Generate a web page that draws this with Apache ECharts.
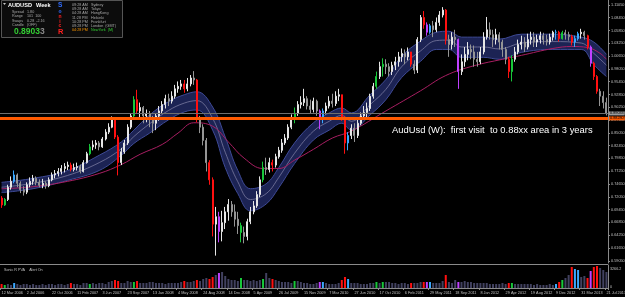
<!DOCTYPE html>
<html>
<head>
<meta charset="utf-8">
<script src="https://cdn.jsdelivr.net/npm/echarts@6/dist/echarts.min.js"></script>
<style>
  html, body { margin: 0; padding: 0; background: #000; }
  #chart { width: 625px; height: 297px; }
</style>
</head>
<body>
<div id="chart"></div>
<script>
  // two-week bars, AUDUSD weekly chart Mar 2006 - Jul 2013
  const dateLabels = ['12 Mar 2006', '2 Jul 2006', '22 Oct 2006', '11 Feb 2007', '3 Jun 2007', '23 Sep 2007',
    '13 Jan 2008', '4 May 2008', '24 Aug 2008', '14 Dec 2008', '5 Apr 2009', '26 Jul 2009', '15 Nov 2009',
    '7 Mar 2010', '27 Jun 2010', '17 Oct 2010', '6 Feb 2011', '29 May 2011', '18 Sep 2011', '8 Jan 2012',
    '29 Apr 2012', '19 Aug 2012', '9 Dec 2012', '31 Mar 2013', '21 Jul 2013'];

  const firstOpen = 0.718;
  const closes = [
    0.704, 0.715, 0.740, 0.752, 0.765, 0.748, 0.735, 0.730, 0.745, 0.752, 0.758, 0.750, 0.744, 0.748, 0.743, 0.755,
    0.765, 0.768, 0.772, 0.778, 0.782, 0.785, 0.776, 0.780, 0.782, 0.772, 0.790, 0.808, 0.822, 0.826, 0.830, 0.822,
    0.838, 0.852, 0.862, 0.878, 0.842, 0.790, 0.812, 0.830, 0.862, 0.885, 0.918, 0.895, 0.902, 0.885, 0.890, 0.878,
    0.870, 0.885, 0.895, 0.908, 0.920, 0.915, 0.925, 0.940, 0.945, 0.950, 0.940, 0.950, 0.962, 0.958, 0.878, 0.862,
    0.835, 0.790, 0.755, 0.665, 0.680, 0.650, 0.668, 0.690, 0.705, 0.690, 0.675, 0.662, 0.648, 0.640, 0.670, 0.690,
    0.702, 0.725, 0.755, 0.780, 0.776, 0.790, 0.785, 0.802, 0.815, 0.830, 0.840, 0.862, 0.882, 0.890, 0.908, 0.912,
    0.920, 0.905, 0.898, 0.915, 0.895, 0.880, 0.895, 0.905, 0.915, 0.910, 0.925, 0.928, 0.880, 0.830, 0.845, 0.860,
    0.845, 0.870, 0.885, 0.892, 0.900, 0.925, 0.945, 0.965, 0.985, 0.990, 0.985, 0.975, 0.988, 0.995, 1.005, 1.012,
    1.005, 1.015, 0.990, 0.978, 1.040, 1.085, 1.070, 1.055, 1.068, 1.060, 1.075, 1.090, 1.100, 1.040, 1.030, 1.045,
    1.040, 0.975, 0.995, 1.010, 1.020, 1.015, 1.000, 0.995, 1.015, 1.045, 1.060, 1.050, 1.040, 1.050, 1.035, 1.020,
    1.000, 0.975, 1.000, 1.015, 1.030, 1.035, 1.025, 1.040, 1.045, 1.035, 1.040, 1.048, 1.040, 1.035, 1.045, 1.055,
    1.055, 1.042, 1.054, 1.050, 1.046, 1.035, 1.042, 1.052, 1.055, 1.048, 1.025, 0.992, 0.965, 0.935, 0.925, 0.912,
    0.890
  ];
  const lows = [
    0.698, 0.702, 0.712, 0.735, 0.748, 0.740, 0.728, 0.723, 0.726, 0.740, 0.745, 0.744, 0.740, 0.738, 0.737, 0.740,
    0.752, 0.758, 0.762, 0.766, 0.770, 0.775, 0.772, 0.772, 0.774, 0.768, 0.770, 0.788, 0.805, 0.815, 0.818, 0.815,
    0.820, 0.835, 0.848, 0.860, 0.838, 0.764, 0.785, 0.808, 0.826, 0.858, 0.882, 0.890, 0.882, 0.870, 0.872, 0.862,
    0.850, 0.856, 0.875, 0.890, 0.900, 0.905, 0.910, 0.920, 0.932, 0.938, 0.932, 0.935, 0.945, 0.948, 0.872, 0.850,
    0.825, 0.772, 0.745, 0.640, 0.601, 0.628, 0.630, 0.655, 0.672, 0.680, 0.660, 0.645, 0.628, 0.626, 0.632, 0.665,
    0.685, 0.698, 0.720, 0.750, 0.765, 0.770, 0.772, 0.780, 0.798, 0.810, 0.826, 0.836, 0.858, 0.870, 0.885, 0.900,
    0.905, 0.898, 0.890, 0.892, 0.885, 0.858, 0.870, 0.888, 0.900, 0.902, 0.905, 0.915, 0.875, 0.808, 0.815, 0.838,
    0.832, 0.840, 0.866, 0.878, 0.882, 0.895, 0.920, 0.940, 0.960, 0.965, 0.970, 0.965, 0.968, 0.978, 0.985, 0.995,
    0.990, 0.998, 0.985, 0.970, 0.972, 1.035, 1.062, 1.048, 1.052, 1.045, 1.055, 1.068, 1.085, 1.030, 1.005, 1.020,
    1.025, 0.940, 0.968, 0.985, 0.998, 1.000, 0.985, 0.985, 0.990, 1.010, 1.040, 1.040, 1.025, 1.030, 1.020, 1.005,
    0.990, 0.962, 0.955, 0.995, 1.010, 1.020, 1.015, 1.020, 1.030, 1.025, 1.025, 1.032, 1.030, 1.028, 1.030, 1.038,
    1.040, 1.036, 1.040, 1.040, 1.038, 1.028, 1.025, 1.038, 1.042, 1.040, 1.020, 0.985, 0.958, 0.930, 0.905, 0.900,
    0.886
  ];
  const highs = [
    0.722, 0.718, 0.745, 0.762, 0.774, 0.768, 0.752, 0.742, 0.750, 0.760, 0.765, 0.762, 0.756, 0.757, 0.752, 0.760,
    0.770, 0.775, 0.779, 0.785, 0.789, 0.792, 0.790, 0.788, 0.790, 0.786, 0.795, 0.812, 0.828, 0.835, 0.836, 0.834,
    0.842, 0.858, 0.870, 0.884, 0.882, 0.846, 0.820, 0.836, 0.868, 0.890, 0.925, 0.938, 0.912, 0.905, 0.898, 0.895,
    0.885, 0.890, 0.905, 0.915, 0.928, 0.930, 0.935, 0.948, 0.955, 0.958, 0.958, 0.962, 0.968, 0.976, 0.960, 0.885,
    0.868, 0.840, 0.795, 0.760, 0.700, 0.690, 0.692, 0.700, 0.716, 0.712, 0.705, 0.690, 0.668, 0.660, 0.676, 0.700,
    0.712, 0.732, 0.762, 0.792, 0.800, 0.800, 0.796, 0.808, 0.822, 0.838, 0.848, 0.868, 0.888, 0.902, 0.915, 0.925,
    0.940, 0.925, 0.918, 0.922, 0.918, 0.898, 0.900, 0.912, 0.925, 0.930, 0.935, 0.940, 0.928, 0.885, 0.852, 0.868,
    0.870, 0.878, 0.892, 0.905, 0.912, 0.930, 0.952, 0.975, 0.995, 1.002, 1.000, 0.992, 0.995, 1.005, 1.015, 1.022,
    1.020, 1.024, 1.015, 0.998, 1.045, 1.090, 1.098, 1.075, 1.072, 1.078, 1.085, 1.098, 1.106, 1.102, 1.050, 1.055,
    1.060, 1.042, 1.010, 1.025, 1.035, 1.030, 1.028, 1.015, 1.025, 1.055, 1.086, 1.075, 1.060, 1.062, 1.055, 1.040,
    1.025, 1.005, 1.008, 1.025, 1.040, 1.048, 1.045, 1.052, 1.056, 1.055, 1.050, 1.056, 1.054, 1.050, 1.052, 1.058,
    1.060, 1.058, 1.058, 1.060, 1.056, 1.050, 1.048, 1.056, 1.062, 1.058, 1.050, 1.028, 0.995, 0.968, 0.940, 0.935,
    0.922
  ];

  // bars drawn in indicator colours (same on candle and volume)
  const redBars = [0, 22, 36, 37, 43, 58, 62, 66, 67, 86, 108, 109, 130, 134, 141, 161, 177, 181, 186, 188, 189];
  const greenBars = [1, 28, 42, 76, 83, 93, 119, 121, 162, 178];
  const purpleBars = [69, 101, 135, 145, 187];
  const cyanBars = [4, 102, 110, 136, 176, 182, 183];

  const volumes = [
    4, 3, 4, 3, 5, 4, 3, 4, 4, 3, 4, 3, 3, 4, 3, 4,
    4, 3, 4, 4, 3, 4, 5, 4, 4, 3, 5, 5, 4, 5, 4, 5,
    5, 4, 6, 7, 8, 7, 5, 5, 7, 6, 6, 7, 5, 5, 5, 6,
    6, 5, 5, 5, 4, 5, 5, 5, 5, 6, 7, 6, 6, 7, 8, 7,
    9, 10, 9, 11, 13, 15, 16, 12, 9, 8, 8, 7, 10, 8, 8, 7,
    8, 7, 8, 9, 15, 10, 9, 8, 7, 6, 6, 6, 5, 7, 7, 6,
    5, 5, 4, 4, 5, 6, 6, 5, 4, 4, 4, 5, 8, 11, 9, 5,
    5, 5, 4, 4, 4, 5, 5, 6, 5, 6, 6, 6, 5, 5, 4, 5,
    5, 4, 5, 5, 5, 6, 6, 6, 6, 5, 5, 5, 7, 13, 6, 5,
    8, 6, 6, 7, 6, 6, 5, 5, 5, 5, 5, 4, 4, 4, 4, 5,
    4, 5, 5, 4, 4, 4, 4, 4, 4, 3, 4, 3, 3, 3, 4, 3,
    4, 6, 8, 10, 13, 21, 19, 18, 11, 12, 10, 17, 21, 22, 20, 18, 16
  ];

  // Sonic R dragon (EMA34 band) and slow EMA, read at sample bars
  const bandIdx = [0, 10, 21, 31, 38, 42, 47, 53, 58, 62, 67, 71, 75, 79, 84, 88, 93, 99, 104, 108, 111, 117, 122,
    127, 133, 138, 142, 146, 153, 158, 165, 175, 184, 188, 192];
  const bandUpper = [0.750, 0.758, 0.774, 0.805, 0.832, 0.856, 0.887, 0.914, 0.928, 0.934, 0.903, 0.842, 0.774,
    0.737, 0.747, 0.780, 0.830, 0.871, 0.891, 0.901, 0.891, 0.928, 0.959, 1.006, 1.037, 1.055, 1.057, 1.045,
    1.045, 1.041, 1.051, 1.051, 1.045, 1.035, 1.010];
  const bandMid = [0.740, 0.748, 0.764, 0.790, 0.818, 0.843, 0.869, 0.896, 0.911, 0.916, 0.880, 0.811, 0.751,
    0.715, 0.727, 0.760, 0.809, 0.854, 0.874, 0.886, 0.874, 0.908, 0.939, 0.985, 1.017, 1.038, 1.039, 1.025,
    1.025, 1.021, 1.033, 1.036, 1.033, 1.012, 0.988];
  const bandLower = [0.729, 0.737, 0.754, 0.774, 0.805, 0.829, 0.850, 0.877, 0.893, 0.897, 0.856, 0.780, 0.727,
    0.692, 0.706, 0.739, 0.788, 0.836, 0.856, 0.870, 0.856, 0.887, 0.918, 0.963, 0.996, 1.020, 1.020, 1.004,
    1.004, 1.000, 1.014, 1.020, 1.020, 0.989, 0.965];

  const maIdx = [0, 10, 21, 31, 38, 44, 51, 56, 61, 67, 72, 77, 83, 88, 93, 99, 105, 111, 122, 133, 141, 150,
    159, 165, 175, 181, 186, 190, 192];
  const maValues = [0.737, 0.741, 0.752, 0.768, 0.786, 0.807, 0.827, 0.850, 0.871, 0.864, 0.832, 0.799, 0.778,
    0.778, 0.795, 0.817, 0.840, 0.854, 0.895, 0.936, 0.967, 0.987, 1.000, 1.008, 1.022, 1.026, 1.024, 1.012,
    1.000];

  const priceTicks = [0.5905, 0.6165, 0.6425, 0.6685, 0.6945, 0.7205, 0.7465, 0.7725, 0.7985, 0.8245, 0.8505,
    0.8765, 0.9025, 0.9285, 0.9545, 0.9805, 1.0065, 1.0325, 1.0585, 1.0845, 1.1105];
  const zoneLevel = 0.8828;
  const bidPrice = 0.89033;

  const chart = echarts.init(document.getElementById('chart'));

  const colorOf = (i) => {
    if (redBars.includes(i)) return '#ff1010';
    if (greenBars.includes(i)) return '#18c83a';
    if (purpleBars.includes(i)) return '#c040ff';
    if (cyanBars.includes(i)) return '#3aa8ff';
    return null;
  };

  const categories = closes.map((_, i) => String(i));
  const candles = closes.map((c, i) => {
    const open = i === 0 ? firstOpen : closes[i - 1];
    const item = { value: [open, c, lows[i], highs[i]] };
    const col = colorOf(i);
    if (col) item.itemStyle = { color: col, color0: col, borderColor: col, borderColor0: col };
    return item;
  });
  const volumeData = volumes.map((v, i) => {
    const col = colorOf(i);
    return col ? { value: v, itemStyle: { color: col } } : v;
  });
  const pairs = (idx, vals) => idx.map((x, k) => [String(x), vals[k]]);

  const tiny = { fontFamily: 'Liberation Sans', fontSize: 3.7, fill: '#a8a8a8' };
  const bold = { fontFamily: 'Liberation Sans', fontWeight: 'bold' };

  const option = {
    backgroundColor: '#000000',
    animation: false,
    grid: [
      { left: 0, right: 17, top: 0, height: 263, containLabel: false, outerBoundsMode: 'none' },
      { left: 0, right: 17, top: 265, height: 23, containLabel: false, outerBoundsMode: 'none' },
    ],
    xAxis: [
      {
        type: 'category', gridIndex: 0, data: categories, boundaryGap: true,
        axisLine: { show: false }, axisTick: { show: false }, axisLabel: { show: false }, splitLine: { show: false },
      },
      {
        type: 'category', gridIndex: 1, data: categories, boundaryGap: true,
        axisLine: { show: true, lineStyle: { color: '#8a8a8a', width: 1 } },
        axisTick: { show: true, interval: 7, length: 2, lineStyle: { color: '#8a8a8a' } },
        axisLabel: {
          interval: 7, align: 'left', margin: 3, color: '#c0c0c0', fontSize: 3.8, fontFamily: 'Liberation Sans',
          formatter: (v, idx) => dateLabels[idx / 8] || '',
        },
        splitLine: { show: false },
      },
    ],
    yAxis: [
      {
        type: 'value', gridIndex: 0, position: 'right', min: 0.5860, max: 1.1205, scale: true,
        axisLine: { show: true, lineStyle: { color: '#8a8a8a', width: 1 } },
        axisTick: { show: true, length: 2, customValues: priceTicks, lineStyle: { color: '#8a8a8a' } },
        axisLabel: {
          customValues: priceTicks, margin: 3, color: '#c0c0c0', fontSize: 3.8, fontFamily: 'Liberation Sans',
          formatter: (v) => v.toFixed(5),
        },
        splitLine: { show: false },
      },
      {
        type: 'value', gridIndex: 1, position: 'right', min: 0, max: 23,
        axisLine: { show: true, lineStyle: { color: '#8a8a8a', width: 1 } },
        axisTick: { show: false }, axisLabel: { show: false }, splitLine: { show: false },
      },
    ],
    series: [
      {
        name: 'bandLower', type: 'line', data: pairs(bandIdx, bandLower), stack: 'band',
        smooth: 0.4, symbol: 'none', lineStyle: { color: '#3e4a96', width: 1 }, z: 1, silent: true,
      },
      {
        name: 'bandFill', type: 'line', data: pairs(bandIdx, bandUpper.map((u, k) => u - bandLower[k])), stack: 'band',
        smooth: 0.4, symbol: 'none', lineStyle: { color: '#3e4a96', width: 1 },
        areaStyle: { color: '#1c2354', opacity: 1 }, z: 1, silent: true,
      },
      {
        name: 'bandMid', type: 'line', data: pairs(bandIdx, bandMid),
        smooth: 0.4, symbol: 'none', lineStyle: { color: '#7a7aa0', width: 0.8 }, z: 2, silent: true,
      },
      {
        name: 'slowEma', type: 'line', data: pairs(maIdx, maValues),
        smooth: 0.4, symbol: 'none', lineStyle: { color: '#a81e62', width: 1 }, z: 2, silent: true,
      },
      {
        name: 'AUDUSD', type: 'candlestick', data: candles, barWidth: 1.5, z: 3,
        itemStyle: { color: '#e6e6e6', color0: '#858585', borderColor: '#e6e6e6', borderColor0: '#959595', borderWidth: 1 },
        markLine: {
          silent: true, symbol: 'none', animation: false,
          data: [
            {
              yAxis: bidPrice, lineStyle: { color: '#6e6e6e', width: 1, type: 'solid' },
              label: { show: true, position: 'end', distance: 1, formatter: bidPrice.toFixed(5), color: '#000',
                backgroundColor: '#9a9a9a', fontSize: 3.8, padding: [0, 1], fontFamily: 'Liberation Sans' },
            },
            {
              yAxis: zoneLevel, lineStyle: { color: '#ff5a00', width: 3, type: 'solid' },
              label: { show: true, position: 'end', distance: 1, formatter: zoneLevel.toFixed(5), color: '#000',
                backgroundColor: '#ff5a00', fontSize: 3.8, padding: [0, 1], fontFamily: 'Liberation Sans' },
            },
          ],
        },
      },
      {
        name: 'PVA', type: 'bar', xAxisIndex: 1, yAxisIndex: 1, data: volumeData, barWidth: 2,
        itemStyle: { color: '#41415f' }, silent: true,
      },
    ],
    graphic: [
      { type: 'line', shape: { x1: 0, y1: 264.5, x2: 608, y2: 264.5 }, style: { stroke: '#8a8a8a', lineWidth: 1 } },
      { type: 'text', left: 4, top: 267.5, style: { ...tiny, fill: '#c0c0c0', text: 'Sonic R PVA    Alert On' } },
      { type: 'text', left: 610, top: 267, style: { ...tiny, fill: '#c0c0c0', text: '3266.2' } },
      { type: 'text', left: 610, top: 285, style: { ...tiny, fill: '#c0c0c0', text: '0' } },
      {
        type: 'text', left: 392, top: 126,
        style: { text: 'AudUsd (W):  first visit  to 0.88xx area in 3 years', fill: '#ffffff',
          fontFamily: 'Liberation Sans', fontSize: 9.4 },
      },
      // info panel
      { type: 'rect', shape: { x: 1.5, y: 0.5, width: 121, height: 37 }, style: { fill: '#0c0c0c', stroke: '#555555', lineWidth: 1 } },
      { type: 'polygon', shape: { points: [[3, 3], [6, 3], [4.5, 5]] }, style: { fill: '#c8c8c8' } },
      { type: 'text', left: 8, top: 2.5, style: { ...bold, text: 'AUDUSD', fill: '#ffffff', fontSize: 5.6 } },
      { type: 'text', left: 36, top: 2.5, style: { ...bold, text: 'Week', fill: '#ffffff', fontSize: 5.6 } },
      { type: 'text', left: 12, top: 9.5, style: { ...tiny, text: 'Spread\nRange\nSwaps\nCandle', lineHeight: 4.4 } },
      { type: 'text', left: 27, top: 9.5, style: { ...tiny, text: '1.80\n101  100\n0.28  -2.16\n(OFF)', lineHeight: 4.4 } },
      { type: 'text', left: 14, top: 27.5, style: { ...bold, text: '0.8903', fill: '#33cc33', fontSize: 8.5 } },
      { type: 'text', left: 40, top: 27.5, style: { ...bold, text: '3', fill: '#8a8a8a', fontSize: 8.5 } },
      { type: 'text', left: 58, top: 2, style: { ...bold, text: 'S', fill: '#2f6cff', fontSize: 6.5 } },
      { type: 'text', left: 58.5, top: 9, style: { ...bold, text: 'o', fill: '#2f6cff', fontSize: 5 } },
      { type: 'text', left: 58.5, top: 14, style: { ...bold, text: 'n', fill: '#ff2020', fontSize: 5 } },
      { type: 'text', left: 59.3, top: 19, style: { ...bold, text: 'i', fill: '#ff2020', fontSize: 5 } },
      { type: 'text', left: 58.5, top: 23, style: { ...bold, text: 'c', fill: '#ff2020', fontSize: 5 } },
      { type: 'text', left: 58, top: 27.5, style: { ...bold, text: 'R', fill: '#ff2020', fontSize: 7.5 } },
      { type: 'text', left: 72, top: 2.5, style: { ...tiny, text: '09:28 AM\n09:28 AM\n04:28 AM\n11:28 PM\n10:28 PM\n09:28 PM', lineHeight: 4.3 } },
      { type: 'text', left: 72, top: 28.3, style: { ...tiny, fill: '#ff9900', text: '04:28 PM' } },
      { type: 'text', left: 91, top: 2.5, style: { ...tiny, text: 'Sydney\nTokyo\nHongKong\nHelsinki\nFrankfurt\nLondon  (GMT)', lineHeight: 4.3 } },
      { type: 'text', left: 91, top: 28.3, style: { ...tiny, fill: '#33cc33', text: 'NewYork  (M)' } },
    ],
  };

  chart.setOption(option);
</script>
</body>
</html>
